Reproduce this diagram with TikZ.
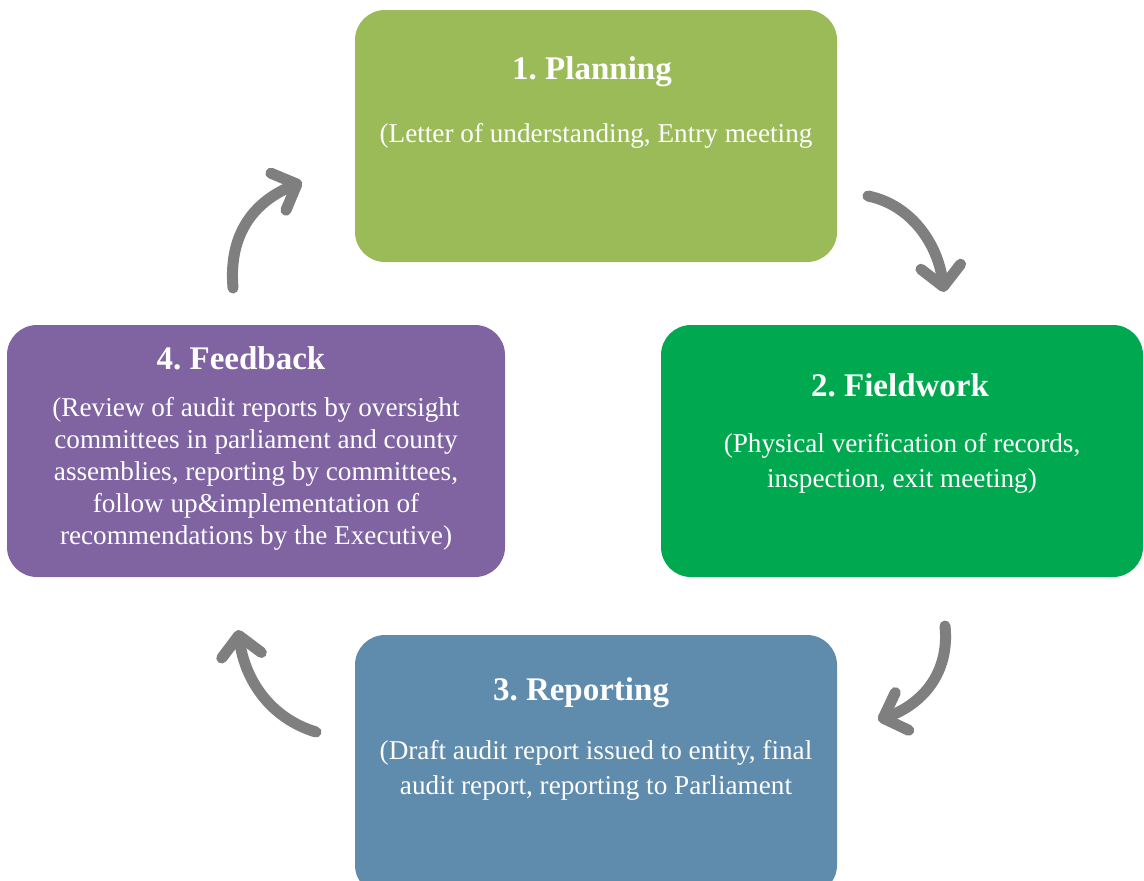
\documentclass[tikz,border=0pt]{standalone}
\usepackage{fontspec}
\setmainfont{Liberation Serif}
\usetikzlibrary{arrows.meta, positioning, calc}

\definecolor{planGreen}{HTML}{9BBB59}
\definecolor{fieldGreen}{HTML}{00A94F}
\definecolor{reportBlue}{HTML}{5F8BAD}
\definecolor{feedPurple}{HTML}{8064A2}
\definecolor{arrowGray}{HTML}{7F7F7F}

\frenchspacing
\begin{document}
\begin{tikzpicture}[
      x=0.5pt, y=-0.5pt,
      stage/.style={rectangle, rounded corners=15pt, inner sep=0pt, text=white},
      title/.style={inner sep=0pt, text=white, font=\fontsize{16.5}{20}\selectfont\bfseries},
      body/.style={inner sep=0pt, text=white, align=center, font=\fontsize{13.6}{16}\selectfont},
      loop/.style={draw=arrowGray, line width=5.5pt, line cap=round,
        -{Straight Barb[length=10pt, width=20pt, round]}}
    ]
    \useasboundingbox (0,0) rectangle (1144,880);

    % stage boxes
    \node[stage, fill=planGreen, minimum width=241pt, minimum height=126pt] (plan) at (596,136) {};
    \node[stage, fill=fieldGreen, minimum width=241pt, minimum height=126pt] (field) at (902,451) {};
    \node[stage, fill=reportBlue, minimum width=241pt, minimum height=130pt] (report) at (596,765) {};
    \node[stage, fill=feedPurple, minimum width=249pt, minimum height=126pt] (feed) at (256,451) {};

    % texts
    \node[title] (plantitle) at ($(plan.north)+(-4,62)$) {1. Planning};
    \node[body] (planbody) at ($(plan.north)+(0,126)$) {(Letter of understanding, Entry meeting};

    \node[title] (fieldtitle) at ($(field.north)+(-2,61)$) {2. Fieldwork};
    \node[body, font=\fontsize{13.6}{17.5}\selectfont] (fieldbody) at ($(field.north)+(0,139)$)
      {(Physical verification of records,\\ inspection, exit meeting)};

    \node[title] (reporttitle) at ($(report.north)+(-15,58)$) {3. Reporting};
    \node[body, font=\fontsize{13.6}{17.5}\selectfont] (reportbody) at ($(report.north)+(0,136)$)
      {(Draft audit report issued to entity, final\\ audit report, reporting to Parliament};

    \node[title] (feedtitle) at ($(feed.north)+(-15,34)$) {4. Feedback};
    \node[body] (feedbody) at ($(feed.north)+(0,149)$)
      {(Review of audit reports by oversight\\ committees in parliament and county\\ assemblies, reporting by committees,\\ follow up\&implementation of\\ recommendations by the Executive)};

    % cycle arrows
    \coordinate (a1s) at (233,288);
    \coordinate (a1e) at (302,182);
    \coordinate (a2s) at (868,196);
    \coordinate (a2e) at (944,292);
    \coordinate (a3s) at (945,626);
    \coordinate (a3e) at (878,720);
    \coordinate (a4s) at (316,732);
    \coordinate (a4e) at (238,630);

    \draw[loop] (a1s) .. controls (228,230) and (258,200) .. (a1e);
    \draw[loop] (a2s) .. controls (912,205) and (938,245) .. (a2e);
    \draw[loop] (a3s) .. controls (950,675) and (920,705) .. (a3e);
    \draw[loop] (a4s) .. controls (270,718) and (245,680) .. (a4e);
  \end{tikzpicture}
\end{document}
